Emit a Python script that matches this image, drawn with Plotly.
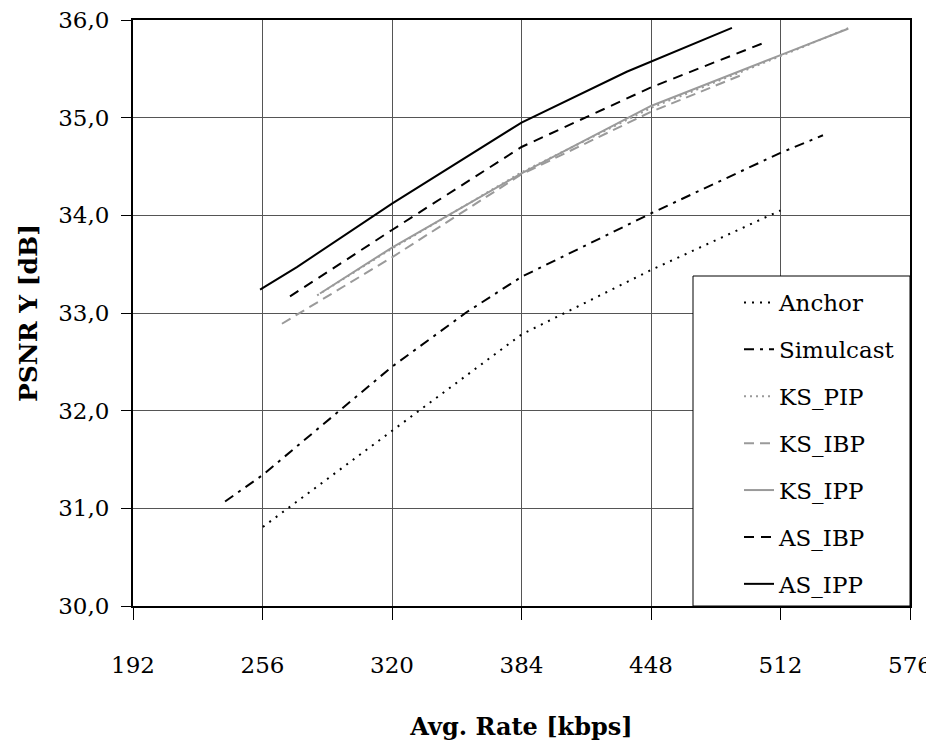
import plotly.graph_objects as go

# Rate-distortion curves: average rate (kbps) vs. luma PSNR (dB)
series_names = ["Anchor", "Simulcast", "KS_PIP", "KS_IBP", "KS_IPP", "AS_IBP", "AS_IPP"]

anchor_rate = [256.2, 320, 384, 448, 512]
anchor_psnr = [30.81, 31.79, 32.78, 33.44, 34.05]

simulcast_rate = [237.5, 256, 320, 357, 384, 448, 512, 533]
simulcast_psnr = [31.07, 31.34, 32.45, 33.01, 33.37, 34.02, 34.64, 34.82]

ks_pip_rate = [283, 320, 384, 448, 512, 546]
ks_pip_psnr = [33.18, 33.66, 34.44, 35.10, 35.63, 35.92]

ks_ibp_rate = [265.6, 320, 384, 448, 492]
ks_ibp_psnr = [32.89, 33.57, 34.42, 35.06, 35.43]

ks_ipp_rate = [284.4, 320, 384, 448, 512, 545.4]
ks_ipp_psnr = [33.20, 33.67, 34.43, 35.12, 35.64, 35.91]

as_ibp_rate = [269.6, 320, 384, 448, 503]
as_ibp_psnr = [33.17, 33.85, 34.70, 35.31, 35.76]

as_ipp_rate = [254.8, 273, 320, 384, 436, 488]
as_ipp_psnr = [33.24, 33.47, 34.12, 34.95, 35.47, 35.92]

x_ticks = [192, 256, 320, 384, 448, 512, 576]
y_ticks = [30, 31, 32, 33, 34, 35, 36]

BLACK = "#000000"
GRAY = "#9a9a9a"
SERIF = "DejaVu Serif"

styles = [
    (anchor_rate, anchor_psnr, BLACK, "2px,6px", 2),
    (simulcast_rate, simulcast_psnr, BLACK, "10px,6px,3px,6px", 2),
    (ks_pip_rate, ks_pip_psnr, GRAY, "2px,4px", 2),
    (ks_ibp_rate, ks_ibp_psnr, GRAY, "10px,6px", 2),
    (ks_ipp_rate, ks_ipp_psnr, GRAY, "solid", 2),
    (as_ibp_rate, as_ibp_psnr, BLACK, "10px,7px", 2),
    (as_ipp_rate, as_ipp_psnr, BLACK, "solid", 2),
]

fig = go.Figure()
for name, (xs, ys, color, dash, width) in zip(series_names, styles):
    fig.add_trace(go.Scatter(
        x=xs, y=ys, name=name, mode="lines", legendgroup=name,
        line=dict(color=color, dash=dash, width=width),
    ))

# framed legend area in the lower right corner of the plot
fig.add_shape(
    type="rect", xref="paper", yref="paper",
    x0=(693 - 133) / 777, x1=1.0, y0=0.0, y1=(606 - 276) / 586,
    line=dict(color=BLACK, width=1), fillcolor="white", layer="above",
)

fig.update_layout(
    width=926, height=746,
    margin=dict(l=133, r=16, t=20, b=140, autoexpand=False),
    paper_bgcolor="white", plot_bgcolor="white",
    separators=", ",
    font=dict(family=SERIF, size=23, color=BLACK),
    showlegend=True,
    legend=dict(
        x=(739 - 133) / 777, xanchor="left",
        y=(606 - 281) / 586, yanchor="top",
        bgcolor="rgba(0,0,0,0)", borderwidth=0,
        font=dict(family=SERIF, size=23, color=BLACK),
        tracegroupgap=14,
    ),
    xaxis=dict(
        range=[192, 576], tickvals=x_ticks, ticktext=[str(v) for v in x_ticks],
        showgrid=True, gridcolor="#555555", gridwidth=1,
        showline=True, linecolor=BLACK, linewidth=2, mirror=True,
        ticks="outside", ticklen=12, tickcolor=BLACK, tickwidth=1,
        ticklabelstandoff=25, ticklabeloverflow="allow", zeroline=False,
        automargin=False,
        title=dict(text="<b>Avg. Rate [kbps]</b>", font=dict(family=SERIF, size=24), standoff=42),
    ),
    yaxis=dict(
        range=[30, 36], tickvals=y_ticks, tickformat=".1f",
        showgrid=True, gridcolor="#555555", gridwidth=1,
        showline=True, linecolor=BLACK, linewidth=2, mirror=True,
        ticks="outside", ticklen=10, tickcolor=BLACK, tickwidth=1,
        ticklabelstandoff=7, zeroline=False, automargin=False,
        title=dict(text="<b>PSNR Y [dB]</b>", font=dict(family=SERIF, size=25), standoff=13),
    ),
)

fig.write_html("out.html")
